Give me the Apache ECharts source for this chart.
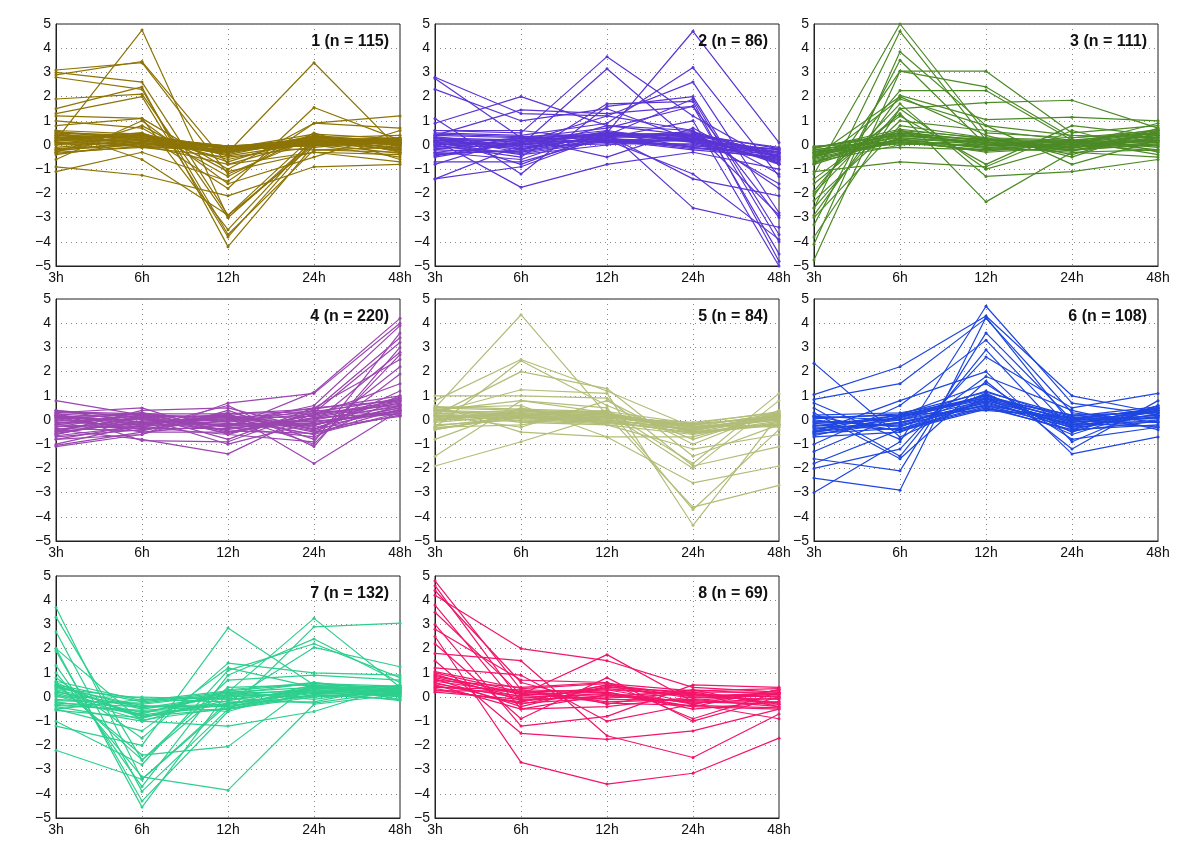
<!DOCTYPE html>
<html>
<head>
<meta charset="utf-8">
<script src="https://cdn.jsdelivr.net/npm/echarts@6/dist/echarts.min.js"></script>
<style>
  html, body { margin: 0; padding: 0; background: #fff; }
  #chart { width: 1200px; height: 848px; }
</style>
</head>
<body>
<div id="chart"></div>
<script>
  // time points and y ticks
  const timePoints = ['3h', '6h', '12h', '24h', '48h'];
  const yTicks = [-5, -4, -3, -2, -1, 0, 1, 2, 3, 4, 5];

  // cluster profiles, one row per gene: [3h, 6h, 12h, 24h, 48h]
  const cluster1 = [
    [3.1, 3.4, -1.2, 0.3, 0.2], [2.9, 3.45, -0.8, 0.2, 0.0], [0.2, 4.75, -3.0, 0.2, 0.0],
    [3.0, 2.6, -2.9, 0.4, 0.1], [2.8, 2.3, -3.7, -0.2, -0.3], [1.9, 2.1, -3.0, 0.1, 0.3],
    [1.5, 2.4, -4.2, 0.0, 0.1], [1.3, 2.0, -3.8, 0.2, 0.0], [0.5, 0.3, -0.3, 3.4, -0.2],
    [0.3, 0.5, -1.8, 1.55, 0.2], [-1.1, -0.3, -1.5, 0.9, 1.2], [-0.9, -1.25, -2.1, -0.9, -0.8],
    [0.8, 1.1, -1.0, 0.9, 0.7], [1.0, 0.7, -1.3, 0.5, -0.6], [-0.6, 1.0, -1.6, -0.5, 0.6],
    [0.6, -0.6, -2.9, 0.0, -0.5], [1.2, 1.1, -3.5, 0.3, 0.4], [-0.3, 0.8, -1.1, -0.3, -0.7],
    [0.4, 0.3, -0.1, 0.3, 0.1], [0.3, 0.4, -0.2, 0.2, 0.0], [0.2, 0.2, -0.1, 0.1, 0.2],
    [0.1, 0.3, -0.3, 0.2, -0.1], [0.0, 0.1, -0.2, 0.0, 0.1], [-0.1, 0.2, -0.4, 0.3, 0.0],
    [-0.2, 0.0, -0.3, 0.1, -0.2], [-0.3, -0.1, -0.5, -0.1, 0.2], [0.5, 0.4, -0.6, 0.2, 0.3],
    [0.2, 0.5, -0.7, 0.4, -0.3], [-0.4, 0.1, -0.1, -0.2, -0.1], [0.3, -0.1, -0.2, 0.0, 0.3],
    [0.1, 0.0, -0.8, -0.3, -0.4], [-0.2, 0.3, -0.05, 0.2, 0.1], [0.4, 0.1, -0.35, 0.4, -0.2],
    [0.0, 0.4, -0.45, 0.1, 0.2],
    [0.6, 0.45, -0.15, 0.45, 0.25], [0.45, 0.2, -0.25, 0.35, -0.05], [0.25, 0.35, -0.05, 0.05, 0.15],
    [0.05, 0.25, -0.15, 0.25, -0.25], [-0.15, 0.05, -0.3, 0.15, 0.05], [-0.25, 0.15, -0.1, -0.05, 0.25],
    [0.35, 0.05, -0.2, 0.25, -0.15], [0.15, 0.45, -0.3, 0.35, 0.05], [-0.35, -0.05, -0.25, 0.05, -0.35],
    [0.55, 0.3, -0.05, 0.15, 0.1]
  ];
  const cluster2 = [
    [2.8, 1.3, 1.2, 0.6, -1.8], [2.75, 0.3, 0.7, 1.6, -3.0], [2.3, 1.0, 1.5, 0.2, -0.5],
    [0.9, 2.0, 0.8, 0.4, -0.3], [0.6, 0.5, 3.65, 1.2, -0.8], [-1.4, 0.0, 3.15, 0.1, -0.6],
    [0.3, -0.8, 0.5, 4.7, 0.1], [0.5, 0.4, 0.9, 3.2, -1.3], [-0.5, 0.1, 1.2, 2.6, -2.8],
    [0.2, -1.75, -0.8, -0.3, -1.0], [-0.3, -0.6, 0.6, -2.6, -3.4], [1.1, -1.2, 1.6, 2.0, -3.7],
    [-1.4, -0.9, 0.4, 1.9, -4.0], [0.4, 1.45, 1.3, 1.6, -4.5], [0.0, -0.5, 1.7, 1.8, -4.8],
    [-0.7, -0.7, 0.3, 1.0, -5.0], [0.6, 0.6, 0.2, -1.2, -3.9], [-0.2, 0.3, 0.4, -1.4, -2.1],
    [0.3, -0.2, 0.8, 0.6, -2.9], [0.1, 0.0, 0.5, 0.4, -1.6], [-0.8, 0.3, -0.5, 0.7, -1.2],
    [0.3, 0.2, 0.4, 0.3, -0.3], [0.2, -0.1, 0.3, 0.5, -0.5], [0.0, 0.1, 0.5, 0.2, -0.2],
    [-0.2, -0.3, 0.2, 0.0, -0.6], [0.4, 0.3, 0.1, 0.4, -0.1], [-0.3, 0.0, 0.3, -0.1, -0.4],
    [0.1, -0.4, 0.0, 0.3, -0.7], [-0.1, 0.2, 0.6, 0.1, -0.3], [0.2, 0.0, 0.2, -0.2, -0.5],
    [-0.4, -0.2, 0.4, 0.4, -0.8], [0.0, 0.3, 0.1, 0.2, -0.2], [0.3, -0.3, 0.5, -0.1, -0.6],
    [0.45, 0.35, 0.45, 0.45, -0.15], [0.25, 0.15, 0.15, 0.25, -0.35], [0.05, -0.15, 0.35, 0.55, -0.45],
    [-0.15, 0.05, 0.55, 0.15, -0.65], [-0.35, -0.25, 0.25, -0.15, -0.25], [0.35, -0.05, 0.05, 0.05, -0.55],
    [0.15, 0.25, 0.45, 0.35, -0.75], [-0.05, -0.35, 0.15, -0.05, -0.15], [-0.45, 0.15, 0.35, 0.25, -0.45],
    [0.1, 0.05, 0.25, 0.15, -0.35]
  ];
  const cluster3 = [
    [-1.2, 5.0, 0.5, 0.3, 0.6], [-2.6, 4.7, 0.2, -0.1, 0.4], [-4.1, 3.85, 0.8, 0.4, 0.3],
    [-3.3, 3.5, 0.0, 0.2, 0.1], [-2.1, 3.05, 3.05, 0.5, 0.8], [-4.75, 3.05, 2.4, 0.3, 0.5],
    [-1.9, 2.25, 2.25, 0.2, -0.2], [-3.8, 1.5, 1.75, 1.85, 0.7], [-2.9, 2.05, 1.05, 1.15, 1.0],
    [-2.6, 1.5, -1.0, 0.0, 0.9], [-1.6, 1.3, -2.35, -0.3, -0.5], [-2.0, 1.7, -1.3, -1.1, -0.6],
    [-0.8, 1.9, 0.8, -0.8, 0.2], [-1.4, 1.2, -0.8, 0.8, 0.4], [-3.0, 0.8, 0.3, -0.4, 0.6],
    [-1.1, -0.7, -0.9, 0.6, -0.3], [-2.3, 1.0, 0.6, 0.2, -0.4], [-0.5, 2.0, 0.4, -0.5, 0.7],
    [-0.1, 0.5, 0.2, 0.1, 0.4], [-0.2, 0.3, 0.0, -0.1, 0.2], [-0.3, 0.6, 0.3, 0.2, 0.5],
    [-0.4, 0.1, -0.2, -0.2, 0.0], [-0.5, 0.4, 0.1, 0.0, 0.3], [-0.6, 0.2, -0.1, -0.3, -0.2],
    [-0.7, 0.0, 0.2, 0.1, 0.6], [-0.2, 0.2, -0.3, -0.1, 0.1], [-0.4, 0.5, 0.0, 0.2, -0.1],
    [-0.8, 0.3, 0.1, -0.2, 0.3], [-0.05, 0.1, 0.0, 0.0, 0.0], [-0.3, -0.1, -0.2, 0.1, 0.2],
    [-0.15, 0.65, 0.25, 0.15, 0.65], [-0.35, 0.45, 0.05, -0.05, 0.45], [-0.55, 0.25, -0.15, 0.05, 0.15],
    [-0.75, 0.55, 0.15, -0.25, 0.35], [-0.25, 0.05, -0.05, 0.15, -0.05], [-0.45, 0.35, 0.25, -0.15, 0.55],
    [-0.65, 0.15, -0.25, 0.05, -0.25], [-0.1, 0.4, 0.1, -0.1, 0.25], [-0.5, 0.6, -0.1, 0.1, 0.5],
    [-0.3, 0.2, 0.2, -0.2, 0.05]
  ];
  const cluster4 = [
    [0.8, 0.2, -0.3, 1.15, 4.2], [-1.1, -0.6, 0.7, 1.1, 4.0], [-1.05, -0.5, -0.2, 0.6, 3.9],
    [0.3, 0.5, -0.6, -0.9, 3.6], [-0.4, -0.8, -1.4, 0.3, 3.2], [0.2, -0.3, 0.6, -1.1, 3.0],
    [-0.6, 0.1, -1.0, -0.1, 2.8], [0.1, -0.4, 0.3, -1.8, 0.4], [-0.2, 0.2, -0.8, 0.5, 2.5],
    [0.4, -0.1, 0.1, -0.6, 2.2], [-0.8, -0.6, 0.4, -0.8, 1.9], [0.0, 0.3, -0.5, 0.2, 1.5],
    [-1.0, -0.2, 0.2, -1.0, 2.7], [0.3, -0.85, -0.9, 0.4, 3.4], [-0.5, 0.4, 0.5, -0.4, 1.2],
    [0.3, 0.2, 0.1, 0.3, 0.9], [0.1, 0.0, -0.2, 0.0, 0.6], [-0.2, -0.3, 0.2, -0.3, 0.4],
    [-0.5, -0.1, -0.4, 0.2, 0.8], [-0.7, -0.4, 0.0, -0.6, 0.3], [0.4, 0.1, -0.3, -0.2, 0.5],
    [-0.3, 0.3, -0.1, 0.4, 0.2], [-0.1, -0.2, 0.3, -0.4, 1.0], [0.2, -0.5, -0.5, 0.1, 0.7],
    [-0.6, 0.2, 0.1, -0.1, 0.4], [0.0, -0.3, -0.6, 0.3, 0.6], [-0.4, 0.1, 0.2, -0.5, 0.2],
    [0.2, -0.1, 0.0, 0.5, 0.8], [-0.8, -0.2, -0.2, -0.2, 0.5], [0.1, 0.3, -0.3, -0.7, 0.9],
    [0.35, 0.25, 0.25, 0.45, 1.0], [0.15, -0.15, 0.05, 0.15, 0.75], [-0.05, 0.05, -0.15, -0.15, 0.35],
    [-0.25, -0.35, -0.35, 0.05, 0.55], [-0.45, 0.15, 0.15, -0.35, 0.15], [-0.65, -0.25, -0.05, 0.25, 0.65],
    [0.05, 0.25, -0.45, -0.55, 0.45], [-0.35, -0.45, 0.25, 0.35, 0.85], [0.25, 0.05, -0.25, -0.05, 0.25],
    [-0.55, -0.05, 0.05, -0.25, 0.95], [-0.15, 0.2, -0.55, 0.1, 0.3], [0.2, -0.2, 0.2, -0.45, 0.6]
  ];
  const cluster5 = [
    [0.5, 4.35, 0.2, -0.3, 0.1], [0.8, 2.5, 1.2, -0.3, 0.0], [-0.3, 2.45, 0.6, -0.8, 0.3],
    [0.2, 2.0, 1.3, -1.5, -0.2], [0.3, 1.25, 1.1, -4.35, 0.2], [-1.5, 0.8, 0.5, -3.7, -0.4],
    [-1.9, -0.9, 0.2, -3.6, -2.7], [0.6, -0.5, -0.7, -2.6, -1.9], [1.0, 1.0, 0.9, -1.9, -1.1],
    [-0.4, 0.2, 0.4, -1.8, 1.1], [0.4, 0.8, 0.3, -2.0, 0.8], [-0.8, 0.5, -0.2, -1.2, -0.6],
    [0.2, -0.3, 0.8, -1.0, 0.4], [0.5, 0.6, -0.7, -0.7, 0.2],
    [0.4, 0.3, 0.2, -0.2, 0.2], [0.2, 0.1, 0.0, -0.4, 0.0], [0.0, 0.4, 0.3, -0.3, -0.2],
    [-0.2, 0.0, -0.1, -0.5, 0.1], [-0.4, 0.2, 0.1, -0.1, 0.3], [0.3, -0.1, -0.2, -0.6, -0.1],
    [0.1, 0.3, 0.2, -0.2, -0.3], [-0.1, 0.2, 0.0, -0.4, 0.2], [0.5, 0.4, 0.1, -0.3, 0.0],
    [-0.3, -0.2, 0.3, -0.5, -0.2], [0.0, 0.1, -0.1, -0.15, 0.1], [0.2, 0.2, 0.25, -0.45, 0.25],
    [0.55, 0.45, 0.35, -0.15, 0.35], [0.35, 0.25, 0.15, -0.35, 0.15], [0.15, 0.05, -0.05, -0.55, -0.05],
    [-0.05, 0.35, 0.25, -0.25, -0.25], [-0.25, 0.15, 0.05, -0.45, 0.25], [0.45, -0.05, -0.15, -0.35, 0.05],
    [0.25, 0.4, 0.3, -0.5, -0.15], [-0.35, 0.1, 0.1, -0.2, 0.15], [0.05, 0.25, 0.15, -0.3, 0.3],
    [0.4, 0.15, -0.05, -0.55, -0.2]
  ];
  const cluster6 = [
    [2.35, -0.7, 0.9, 0.2, 0.3], [-3.0, -0.9, 4.7, 0.7, 0.2], [1.05, 2.2, 4.3, 1.0, 0.3],
    [0.85, 1.5, 4.2, 0.3, -0.1], [-2.4, -2.9, 4.25, -0.2, 0.5], [-1.6, -2.1, 3.6, 0.0, 0.1],
    [-1.0, 0.6, 3.3, -0.4, 0.4], [0.5, -1.5, 2.9, -0.9, 0.6], [-2.0, -1.2, 2.6, 0.5, 1.1],
    [-0.5, 0.8, 2.0, -1.4, -0.7], [0.3, -1.6, 1.6, -1.2, 0.8], [-1.3, 0.2, 1.5, -0.8, -0.3],
    [0.7, -0.8, 1.8, 0.4, -0.4], [-1.8, -0.4, 0.9, -0.6, 0.5],
    [0.1, 0.2, 1.0, 0.1, 0.4], [-0.1, 0.0, 0.8, -0.1, 0.2], [-0.3, -0.2, 0.6, -0.3, 0.0],
    [-0.5, 0.1, 1.2, 0.0, 0.5], [-0.2, -0.4, 0.5, -0.4, -0.2], [0.2, 0.3, 0.9, 0.2, 0.3],
    [-0.6, -0.1, 0.7, -0.2, 0.1], [0.0, -0.3, 1.1, -0.5, 0.6], [-0.4, 0.2, 0.4, 0.1, -0.3],
    [-0.7, -0.5, 0.8, -0.1, 0.2], [0.15, 0.0, 0.6, -0.3, 0.4], [-0.25, 0.1, 1.0, -0.05, -0.1],
    [0.05, 0.25, 1.15, 0.15, 0.55], [-0.15, 0.05, 0.95, -0.05, 0.35], [-0.35, -0.15, 0.75, -0.25, 0.15],
    [-0.55, -0.35, 0.55, -0.45, -0.05], [-0.65, 0.15, 0.85, 0.05, 0.45], [-0.05, -0.25, 0.65, -0.15, -0.25],
    [-0.45, 0.0, 1.05, -0.35, 0.25], [0.15, -0.45, 0.45, 0.1, 0.05], [-0.25, 0.2, 0.9, -0.2, 0.5],
    [-0.5, -0.1, 0.6, 0.0, 0.3]
  ];
  const cluster7 = [
    [3.7, -3.4, -0.3, 0.3, 0.2], [3.3, -2.6, 0.4, 0.5, 0.0], [2.7, -3.9, -0.5, 0.1, 0.3],
    [2.0, -4.55, 0.2, 3.25, 0.4], [1.9, -4.3, -0.6, 2.9, 3.05], [1.3, -3.7, 0.9, 2.4, 0.6],
    [1.0, -3.3, -3.85, -0.3, 0.1], [-1.0, -2.8, 1.1, 2.2, 0.8], [-2.2, -3.4, -0.2, 2.05, 1.25],
    [-1.2, -2.0, 2.85, 0.5, -0.1], [0.5, -2.4, -2.05, 0.6, 0.2], [0.8, -1.7, 1.4, 1.0, 0.9],
    [-0.5, -1.4, 1.2, 0.4, 0.3], [2.0, -1.0, -1.2, -0.6, 0.5], [0.6, -2.6, 0.7, 0.9, 0.7],
    [0.5, -0.2, 0.2, 0.4, 0.3], [0.3, -0.5, 0.0, 0.2, 0.1], [0.1, -0.8, -0.3, 0.5, 0.4],
    [-0.1, -0.3, 0.1, 0.0, 0.2], [-0.3, -0.6, -0.5, 0.3, 0.0], [-0.5, -0.1, -0.2, -0.2, 0.5],
    [0.6, -0.9, 0.3, 0.6, 0.3], [0.2, -0.4, -0.4, 0.1, -0.1], [0.0, 0.0, -0.1, 0.3, 0.2],
    [-0.2, -0.7, 0.2, -0.1, 0.4], [0.4, -0.35, -0.6, 0.4, 0.1], [-0.4, -1.0, 0.0, 0.2, 0.3],
    [0.65, -0.15, 0.25, 0.55, 0.45], [0.45, -0.45, 0.05, 0.35, 0.25], [0.25, -0.75, -0.25, 0.15, 0.05],
    [0.05, -0.95, -0.45, 0.45, 0.35], [-0.15, -0.25, 0.15, 0.25, -0.15], [-0.35, -0.55, -0.35, 0.05, 0.15],
    [-0.55, -0.85, -0.15, 0.35, 0.45], [0.35, -0.05, -0.05, -0.25, 0.25], [0.15, -0.65, 0.1, 0.6, 0.0],
    [-0.25, -0.4, -0.3, 0.2, 0.35], [0.5, -0.8, -0.5, 0.0, 0.2]
  ];
  const cluster8 = [
    [4.8, 0.3, 0.2, -0.5, -0.2], [4.6, -0.2, 0.5, 0.0, 0.1], [4.4, 0.6, -0.3, 0.3, -0.4],
    [4.2, 2.0, 1.5, 0.4, 0.2], [3.8, -0.5, 0.1, -0.4, 0.3], [3.5, 0.1, 1.75, -0.2, -0.3],
    [2.5, -2.7, -3.6, -3.15, -1.7], [1.8, 1.5, -1.6, -2.5, -0.7], [1.5, -1.5, -1.75, -1.4, -0.5],
    [2.2, -0.9, 0.8, -1.0, 0.0], [3.0, -1.2, -0.8, 0.5, 0.4], [1.2, 0.9, -1.0, -0.3, -0.9],
    [2.8, 0.7, 0.6, -0.9, 0.2],
    [1.0, 0.2, 0.3, 0.1, 0.0], [0.8, 0.0, 0.1, -0.2, -0.2], [0.6, -0.3, 0.4, 0.2, 0.2],
    [0.4, 0.3, -0.2, -0.1, -0.4], [0.2, -0.1, 0.0, 0.3, 0.1], [0.7, 0.4, 0.6, -0.3, 0.3],
    [0.5, -0.5, -0.4, 0.0, -0.1], [0.9, 0.1, 0.2, -0.4, -0.5], [0.3, -0.2, 0.5, 0.1, 0.0],
    [0.65, 0.15, -0.1, -0.15, 0.15],
    [1.05, 0.35, 0.55, 0.25, 0.35], [0.85, 0.15, 0.35, 0.05, 0.15], [0.55, -0.05, 0.15, -0.25, -0.05],
    [0.35, -0.25, -0.05, 0.15, -0.25], [0.25, 0.25, -0.25, -0.35, -0.45], [0.75, -0.4, 0.45, -0.05, 0.05],
    [0.95, -0.15, 0.05, 0.2, -0.3], [0.45, 0.05, 0.3, -0.3, 0.3]
  ];

  const clusters = [cluster1, cluster2, cluster3, cluster4, cluster5, cluster6, cluster7, cluster8];
  const clusterSizes = [115, 86, 111, 220, 84, 108, 132, 69];
  const colors = ['#8c7406', '#5a34d4', '#4c8a26', '#9a45b0', '#b2bd78', '#1f46e0', '#2ecf8e', '#f2156a'];

  const colLeft = [56, 435, 814];
  const rowTop = [24, 299, 576];
  const panelW = 344;
  const panelH = 242;

  const chart = echarts.init(document.getElementById('chart'));

  const grids = [];
  const xAxes = [];
  const yAxes = [];
  const series = [];
  const texts = [];
  const font = 'Liberation Sans, Arial, sans-serif';

  clusters.forEach((rows, i) => {
    const left = colLeft[i % 3];
    const top = rowTop[Math.floor(i / 3)];
    grids.push({
      left: left, top: top, width: panelW, height: panelH,
      show: true, borderColor: '#222', borderWidth: 1, backgroundColor: '#fff'
    });
    xAxes.push({
      type: 'category', gridIndex: i, data: timePoints, boundaryGap: false,
      axisLine: { onZero: false, lineStyle: { color: '#222' } },
      axisTick: { show: false },
      axisLabel: { color: '#111', fontSize: 14, fontFamily: font, margin: 5, showMaxLabel: true },
      splitLine: { show: true, lineStyle: { type: [1, 4], color: '#888', width: 1 } }
    });
    yAxes.push({
      type: 'value', gridIndex: i, min: yTicks[0], max: yTicks[yTicks.length - 1], interval: 1,
      axisLine: { show: true, lineStyle: { color: '#222' } },
      axisTick: { show: false },
      axisLabel: {
        color: '#111', fontSize: 14, fontFamily: font, margin: 5,
        formatter: v => (v < 0 ? '\u2212' + (-v) : String(v))
      },
      splitLine: { show: true, lineStyle: { type: [1, 4], color: '#888', width: 1 } }
    });
    rows.forEach(r => {
      series.push({
        type: 'line', xAxisIndex: i, yAxisIndex: i, data: r,
        symbol: 'circle', symbolSize: 3, showSymbol: true,
        lineStyle: { width: 1.2, color: colors[i] },
        itemStyle: { color: colors[i] },
        silent: true, animation: false, z: 3
      });
    });
    texts.push({
      type: 'text', right: 1200 - (left + panelW - 11), top: top + 10, z: 100,
      style: { text: (i + 1) + ' (n = ' + clusterSizes[i] + ')', fill: '#111', font: 'bold 16px ' + font }
    });
  });

  chart.setOption({
    backgroundColor: '#fff',
    animation: false,
    grid: grids,
    xAxis: xAxes,
    yAxis: yAxes,
    series: series,
    graphic: texts
  });
</script>
</body>
</html>
